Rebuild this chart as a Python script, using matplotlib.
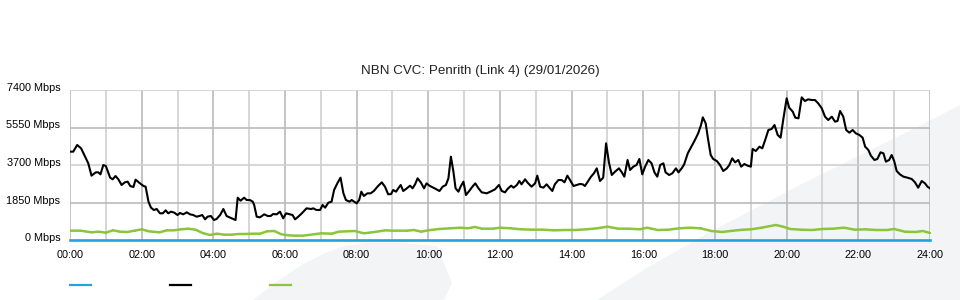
import matplotlib
matplotlib.use("Agg")
import matplotlib.pyplot as plt
from matplotlib.patches import Polygon
from matplotlib.lines import Line2D
from matplotlib.transforms import ScaledTranslation
import numpy as np

plt.rcParams['font.family'] = ['Liberation Sans', 'DejaVu Sans']

title = "NBN CVC: Penrith (Link 4) (29/01/2026)"

y_ticks = [0, 1850, 3700, 5550, 7400]
y_labels = ["0 Mbps", "1850 Mbps", "3700 Mbps", "5550 Mbps", "7400 Mbps"]
x_ticks = list(range(0, 25, 2))
x_labels = ["%02d:00" % h for h in x_ticks]

black_hours = [0.0, 0.09, 0.2, 0.31, 0.4, 0.51, 0.6, 0.72, 0.79, 0.85, 0.93, 1.0, 1.12, 1.19, 1.27, 1.35,
               1.44, 1.53, 1.61, 1.68, 1.77, 1.83, 1.93, 2.05, 2.11, 2.19, 2.26, 2.34, 2.42, 2.51, 2.59,
               2.67, 2.74, 2.82, 2.91, 3.0, 3.07, 3.16, 3.26, 3.35, 3.44, 3.53, 3.61, 3.69, 3.77, 3.84,
               3.93, 4.02, 4.09, 4.19, 4.28, 4.37, 4.47, 4.56, 4.62, 4.68, 4.76, 4.86, 4.93, 5.02, 5.1,
               5.14, 5.21, 5.3, 5.42, 5.52, 5.6, 5.67, 5.77, 5.86, 5.95, 6.03, 6.14, 6.21, 6.28, 6.37,
               6.47, 6.6, 6.73, 6.79, 6.88, 6.98, 7.05, 7.12, 7.21, 7.3, 7.37, 7.46, 7.55, 7.63, 7.7,
               7.8, 7.86, 7.93, 8.0, 8.07, 8.13, 8.2, 8.3, 8.39, 8.48, 8.58, 8.7, 8.79, 8.88, 8.96,
               9.02, 9.1, 9.16, 9.23, 9.3, 9.4, 9.49, 9.56, 9.63, 9.7, 9.79, 9.88, 9.95, 10.03, 10.12,
               10.21, 10.31, 10.4, 10.49, 10.56, 10.63, 10.7, 10.76, 10.84, 10.9, 10.98, 11.05, 11.14,
               11.23, 11.31, 11.4, 11.49, 11.63, 11.77, 11.86, 11.97, 12.05, 12.14, 12.21, 12.31, 12.38,
               12.47, 12.54, 12.6, 12.7, 12.77, 12.88, 12.98, 13.04, 13.12, 13.21, 13.3, 13.38, 13.46,
               13.53, 13.63, 13.72, 13.8, 13.88, 13.97, 14.05, 14.14, 14.23, 14.31, 14.37, 14.45, 14.54,
               14.62, 14.7, 14.79, 14.88, 14.96, 15.04, 15.12, 15.21, 15.32, 15.4, 15.47, 15.56, 15.63,
               15.72, 15.81, 15.89, 15.97, 16.05, 16.14, 16.23, 16.31, 16.39, 16.47, 16.56, 16.62, 16.72,
               16.81, 16.91, 16.98, 17.07, 17.14, 17.24, 17.35, 17.44, 17.53, 17.61, 17.66, 17.74, 17.81,
               17.88, 17.95, 18.05, 18.14, 18.23, 18.33, 18.4, 18.48, 18.56, 18.65, 18.73, 18.82, 18.91,
               19.0, 19.05, 19.14, 19.24, 19.32, 19.4, 19.49, 19.58, 19.66, 19.75, 19.83, 19.91, 20.0,
               20.07, 20.17, 20.24, 20.33, 20.42, 20.51, 20.6, 20.7, 20.79, 20.88, 20.98, 21.07, 21.16,
               21.26, 21.35, 21.42, 21.49, 21.58, 21.66, 21.75, 21.84, 21.93, 22.03, 22.12, 22.19, 22.28,
               22.35, 22.45, 22.53, 22.62, 22.7, 22.77, 22.86, 22.93, 23.0, 23.07, 23.16, 23.26, 23.37,
               23.49, 23.58, 23.67, 23.77, 23.86, 23.93, 24.0]

black_mbps = [4358, 4358, 4687, 4522, 4193, 3782, 3174, 3338, 3338, 3239, 3700, 3651, 3075, 2993, 3157, 2993,
              2713, 2845, 2878, 2664, 2615, 2976, 2828, 2664, 2631, 1891, 1595, 1480, 1529, 1316, 1316,
              1464, 1316, 1398, 1348, 1233, 1332, 1266, 1365, 1266, 1233, 1151, 1184, 1233, 1020, 1151,
              1184, 987, 1036, 1233, 1529, 1184, 1102, 1036, 987, 2088, 1940, 2088, 1973, 1973, 1891,
              1727, 1151, 1118, 1266, 1184, 1184, 1283, 1266, 1398, 1069, 1316, 1266, 1233, 1020, 1151,
              1316, 1562, 1529, 1562, 1480, 1480, 1727, 1595, 1842, 1891, 2467, 2795, 3075, 2302, 1973,
              1891, 1973, 1891, 1809, 1973, 2384, 2171, 2302, 2302, 2417, 2631, 2845, 2631, 2253, 2269,
              2467, 2384, 2549, 2713, 2417, 2549, 2680, 2549, 2746, 3042, 2845, 2549, 2795, 2680, 2598,
              2516, 2417, 2631, 2713, 3042, 4111, 3371, 2549, 2384, 2631, 2878, 2220, 2417,
              2631, 2795, 2549, 2351, 2302, 2417, 2499, 2713, 2417, 2351, 2516, 2680, 2582,
              2713, 2911, 2746, 2993, 2828, 2631, 2795, 3174, 2631, 2582, 2746, 2582, 2417,
              2746, 2960, 2960, 2845, 3174, 2911, 2664, 2713, 2763, 2746, 2664, 2878, 3124,
              3289, 3535, 2911, 3075, 4769, 3831, 3207, 3371, 3535, 3338, 3124, 3947, 3453,
              3618, 3700, 3996, 3239, 3618, 3947, 3782, 3338, 3124, 3700, 3782, 3338, 3207,
              3289, 3535, 3338, 3535, 3733, 4275, 4637, 4933, 5262, 5673, 6051, 5755, 4933,
              4193, 3996, 3897, 3700, 3404, 3535, 3700, 4029, 3831, 3947, 3618, 3749, 3667,
              3618, 4489, 4391, 4604, 4522, 4933, 5427, 5476, 5673, 5180, 5048, 6002, 6989,
              6528, 6331, 6035, 6002, 7038, 6857, 6939, 6906, 6906, 6742, 6495, 6084, 5920,
              6084, 5838, 5871, 6364, 6084, 5427, 5295, 5427, 5262, 5180, 5048, 4604, 4440,
              4160, 3947, 3996, 4325, 4275, 3864, 3947, 4193, 3897, 3404, 3239, 3124, 3075,
              3009, 2845, 2582, 2911, 2795, 2631, 2549]

green_hours = [0, 0.3, 0.6, 0.8, 1.0, 1.2, 1.4, 1.6, 1.8, 2.0, 2.2, 2.5, 2.7, 2.9, 3.1, 3.3, 3.5, 3.7, 3.9,
               4.1, 4.3, 4.5, 4.7, 4.9, 5.1, 5.3, 5.5, 5.7, 5.9, 6.1, 6.3, 6.5, 6.8, 7.0, 7.3, 7.5, 7.95,
               8.2, 8.5, 8.8, 9.0, 9.4, 9.6, 9.8, 10.0, 10.3, 10.6, 10.9, 11.1, 11.3, 11.5, 11.8, 12.0,
               12.3, 12.6, 12.9, 13.2, 13.5, 13.8, 14.1, 14.4, 14.7, 15.0, 15.3, 15.6, 15.9, 16.1, 16.4,
               16.7, 17.0, 17.3, 17.6, 17.9, 18.2, 18.5, 18.8, 19.0, 19.3, 19.5, 19.7, 19.9, 20.1, 20.4,
               20.7, 21.0, 21.3, 21.6, 21.9, 22.2, 22.5, 22.8, 23.0, 23.3, 23.6, 23.8, 24.0]
green_mbps = [460, 460, 378, 411, 362, 477, 411, 395, 460, 526, 428, 378, 477, 477, 526, 559, 510, 345, 247,
              312, 263, 263, 296, 296, 312, 312, 428, 444, 280, 230, 214, 214, 280, 329, 312, 411, 444,
              329, 395, 477, 460, 460, 493, 411, 477, 543, 575, 608, 575, 641, 559, 559, 608,
              575, 526, 510, 510, 477, 493, 493, 526, 575, 658, 559, 559, 526, 608, 493,
              510, 575, 608, 575, 444, 395, 460, 510, 526, 608, 674, 740, 658, 543, 510,
              493, 543, 559, 608, 510, 526, 493, 493, 543, 411, 395, 444, 345]

blue_hours = [0, 24]
blue_mbps = [0, 0]

BLUE = '#1ea5e0'
BLACK = '#000000'
GREEN = '#8cc43c'
W = 960.0
H = 300.0

fig = plt.figure(figsize=(9.6, 3.0), dpi=100)
fig.patch.set_facecolor('white')

def fp(pts):
    return [(x / W, 1 - y / H) for x, y in pts]

wm = '#f3f4f6'
left_shape = fp([(253, 300), (275, 283), (300, 266), (325, 253), (345, 246), (365, 243),
                 (400, 243), (437, 246), (452, 283), (444, 300)])
right_shape = fp([(597, 300), (650, 266), (710, 232), (800, 185), (935, 118), (960, 105), (960, 300)])
for shp in (left_shape, right_shape):
    fig.add_artist(Polygon(shp, closed=True, facecolor=wm, edgecolor='none',
                           transform=fig.transFigure, zorder=-5))

ax = fig.add_axes([70 / W, 1 - 240 / H, 860 / W, 150 / H])
ax.set_facecolor('none')
ax.set_xlim(0, 24)
ax.set_ylim(0, 7400)

for h in range(0, 25):
    col = '#bababa' if h % 2 == 0 else '#d0d0d0'
    ax.axvline(h, color=col, lw=1.2, zorder=1)
for yv in y_ticks[1:]:
    col = '#bababa' if yv in (1850, 5550) else '#d0d0d0'
    ax.axhline(yv, color=col, lw=1.2, zorder=1)

for s in ax.spines.values():
    s.set_visible(False)

ax.plot(green_hours, green_mbps, color=GREEN, lw=1.8, marker='s', markersize=1.8,
        markeredgewidth=0, zorder=3)
ax.plot(black_hours, black_mbps, color=BLACK, lw=1.5, zorder=4)
ax.plot(blue_hours, blue_mbps, color=BLUE, lw=1.9, zorder=5, clip_on=False)

ax.set_xticks(x_ticks)
ax.set_xticklabels(x_labels)
ax.set_yticks(y_ticks)
ax.set_yticklabels(y_labels)
ax.tick_params(axis='both', length=0, labelsize=7.8, colors='#000000')
ax.tick_params(axis='x', pad=7)
ax.tick_params(axis='y', pad=7)
shift = ScaledTranslation(0, 2 / 100.0, fig.dpi_scale_trans)
for lab in ax.get_yticklabels():
    lab.set_verticalalignment('center')
    lab.set_transform(lab.get_transform() + shift)

fig.text(480 / W, 1 - 71 / H, title, ha='center', va='center', fontsize=9.6, color='#222222')

for x0, col in ((70, BLUE), (170, BLACK), (270, GREEN)):
    fig.add_artist(Line2D([x0 / W, (x0 + 21) / W], [1 - 285 / H, 1 - 285 / H], color=col, lw=1.6,
                          transform=fig.transFigure))

fig.savefig('out.png', dpi=100)
